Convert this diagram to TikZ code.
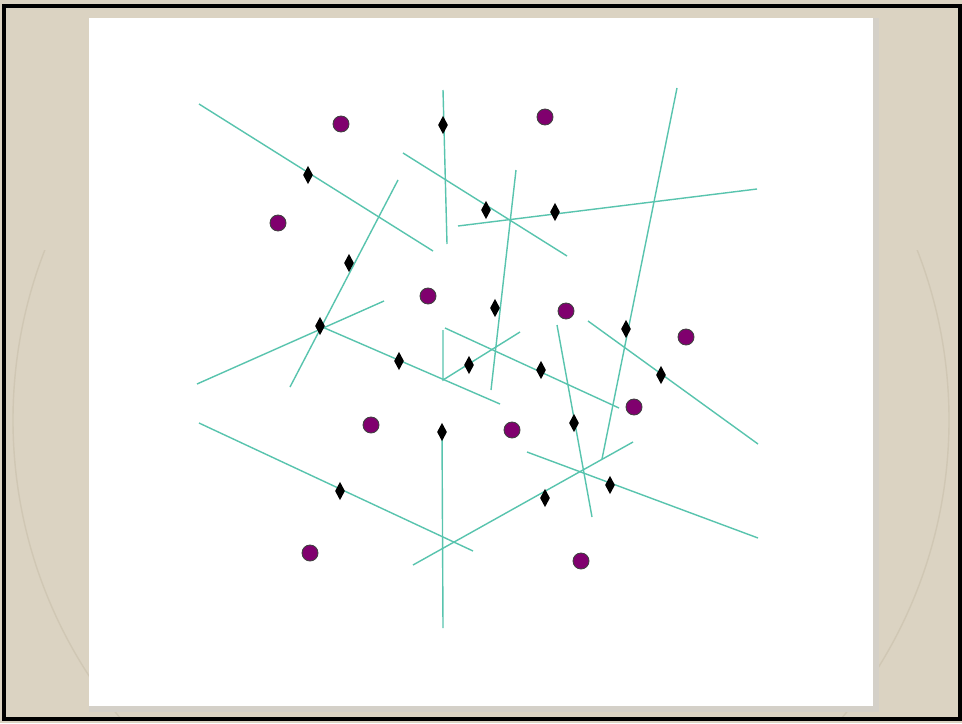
\documentclass[tikz,border=0pt]{standalone}
\usepackage{xcolor}
\usepackage{tikz}
\usetikzlibrary{shapes.geometric}
\definecolor{mapbeige}{HTML}{DBD3C2}
\definecolor{mapline}{HTML}{D0C7B4}
\definecolor{barbeige}{HTML}{D4D0C8}
\definecolor{bisteal}{HTML}{58C4AE}
\definecolor{sitepurple}{HTML}{80006E}

\tikzset{
  site/.style={circle, draw=black!75, fill=sitepurple, line width=0.5pt,
               minimum size=0.32cm, inner sep=0pt},
  vtx/.style={diamond, fill=black, minimum width=0.2cm, minimum height=0.37cm,
              inner sep=0pt},
  bisector/.style={bisteal, line width=0.8pt}
}

\begin{document}
\begin{tikzpicture}[x=0.02cm, y=-0.02cm]
    \useasboundingbox (0,0) rectangle (962,723);

    % slide backdrop and window
    \fill[mapbeige] (0,0) rectangle (962,723);
    \begin{scope}
        \clip (0,250) rectangle (962,719);
        \draw[mapline, line width=0.8pt] (481,420) circle (468);
    \end{scope}
    \fill[white] (89,18) rectangle (873,706);
    \fill[barbeige] (873,18) rectangle (879,712);
    \fill[barbeige] (89,706) rectangle (879,712);
    \draw[black, line width=2.2pt] (4,6) rectangle (960,719);

    % end points of the bisector segments
    \coordinate (b1a) at (199,104); \coordinate (b1b) at (433,251);
    \coordinate (b2a) at (398,180); \coordinate (b2b) at (290,387);
    \coordinate (b3a) at (443,90);  \coordinate (b3b) at (447,244);
    \coordinate (b4a) at (403,153); \coordinate (b4b) at (567,256);
    \coordinate (b5a) at (458,226); \coordinate (b5b) at (757,189);
    \coordinate (b6a) at (516,170); \coordinate (b6b) at (491,390);
    \coordinate (b7a) at (677,88);  \coordinate (b7b) at (602,459);
    \coordinate (b8a) at (197,384); \coordinate (b8b) at (384,301);
    \coordinate (b9a) at (320,326); \coordinate (b9b) at (500,404);
    \coordinate (j1) at (443,380);
    \coordinate (b10a) at (443,330);
    \coordinate (b11b) at (520,332);
    \coordinate (b12a) at (445,328); \coordinate (b12b) at (619,408);
    \coordinate (b13a) at (557,325); \coordinate (b13b) at (592,517);
    \coordinate (b14a) at (588,321); \coordinate (b14b) at (758,444);
    \coordinate (b15a) at (199,423); \coordinate (b15b) at (473,551);
    \coordinate (b16a) at (442,432); \coordinate (b16b) at (443,628);
    \coordinate (b17a) at (413,565); \coordinate (b17b) at (633,442);
    \coordinate (b18a) at (527,452); \coordinate (b18b) at (758,538);

    % bisectors
    \draw[bisector] (b1a) -- (b1b);
    \draw[bisector] (b2a) -- (b2b);
    \draw[bisector] (b3a) -- (b3b);
    \draw[bisector] (b4a) -- (b4b);
    \draw[bisector] (b5a) -- (b5b);
    \draw[bisector] (b6a) -- (b6b);
    \draw[bisector] (b7a) -- (b7b);
    \draw[bisector] (b8a) -- (b8b);
    \draw[bisector] (b9a) -- (b9b);
    \draw[bisector] (b10a) -- (j1) -- (b11b);
    \draw[bisector] (b12a) -- (b12b);
    \draw[bisector] (b13a) -- (b13b);
    \draw[bisector] (b14a) -- (b14b);
    \draw[bisector] (b15a) -- (b15b);
    \draw[bisector] (b16a) -- (b16b);
    \draw[bisector] (b17a) -- (b17b);
    \draw[bisector] (b18a) -- (b18b);

    % voronoi vertices
    \node[vtx] (v1)  at (308,175) {};
    \node[vtx] (v2)  at (443,125) {};
    \node[vtx] (v3)  at (486,210) {};
    \node[vtx] (v4)  at (555,212) {};
    \node[vtx] (v5)  at (349,263) {};
    \node[vtx] (v6)  at (b9a) {};
    \node[vtx] (v7)  at (495,308) {};
    \node[vtx] (v8)  at (626,329) {};
    \node[vtx] (v9)  at (399,361) {};
    \node[vtx] (v10) at (469,365) {};
    \node[vtx] (v11) at (541,370) {};
    \node[vtx] (v12) at (661,375) {};
    \node[vtx] (v13) at (b16a) {};
    \node[vtx] (v14) at (574,423) {};
    \node[vtx] (v15) at (340,491) {};
    \node[vtx] (v16) at (545,498) {};
    \node[vtx] (v17) at (610,485) {};

    % sites
    \node[site] (s1)  at (341,124) {};
    \node[site] (s2)  at (545,117) {};
    \node[site] (s3)  at (278,223) {};
    \node[site] (s4)  at (428,296) {};
    \node[site] (s5)  at (566,311) {};
    \node[site] (s6)  at (686,337) {};
    \node[site] (s7)  at (634,407) {};
    \node[site] (s8)  at (371,425) {};
    \node[site] (s9)  at (512,430) {};
    \node[site] (s10) at (310,553) {};
    \node[site] (s11) at (581,561) {};
\end{tikzpicture}
\end{document}
